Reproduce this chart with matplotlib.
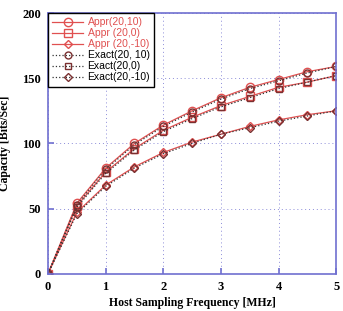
import matplotlib.pyplot as plt
import numpy as np

# Host sampling frequency [MHz]
freq = [0, 0.5, 1, 1.5, 2, 2.5, 3, 3.5, 4, 4.5, 5]

# approximated capacity
appr_10 = [0, 54, 81, 100, 114, 125, 135, 143, 149, 155, 159]
appr_0 = [0, 52, 78, 96, 110, 120, 129, 136, 143, 147, 152]
appr_m10 = [0, 47, 68, 82, 93, 101, 107, 113, 118, 122, 125]

# exact capacity
exact_10 = [0, 53, 80, 99, 113, 124, 134, 142, 148, 154, 159]
exact_0 = [0, 51, 77, 95, 109, 119, 128, 135, 142, 147, 152]
exact_m10 = [0, 46, 67, 81, 92, 100, 107, 112, 117, 121, 125]

red = '#e05050'
blue = '#7070d0'

fig = plt.figure(figsize=(3.43, 3.11), dpi=100)
ax = fig.add_axes([0.14, 0.12, 0.84, 0.838])

ax.plot(freq, appr_10, color=red, lw=0.9, marker='o', ms=6, mfc='none', mec=red, label='Appr(20,10)')
ax.plot(freq, appr_0, color=red, lw=0.9, marker='s', ms=6, mfc='none', mec=red, label='Appr (20,0)')
ax.plot(freq, appr_m10, color=red, lw=0.9, marker='D', ms=4, mfc='none', mec=red, label='Appr (20,-10)')
ax.plot(freq, exact_10, color='#333333', lw=0.9, ls=':', marker='o', ms=5, mfc='none', mec='#7a3030', label='Exact(20, 10)')
ax.plot(freq, exact_0, color='#333333', lw=0.9, ls=':', marker='s', ms=5, mfc='none', mec='#7a3030', label='Exact(20,0)')
ax.plot(freq, exact_m10, color='#333333', lw=0.9, ls=':', marker='D', ms=4, mfc='none', mec='#7a3030', label='Exact(20,-10)')

ax.set_xlim(0, 5)
ax.set_ylim(0, 200)
ax.set_xticks(range(6))
ax.set_yticks([0, 50, 100, 150, 200])
ax.grid(True, color=blue, ls=(0, (1, 3)), lw=0.7, alpha=0.8)
for s in ax.spines.values():
    s.set_color(blue)
    s.set_linewidth(1.2)
ax.tick_params(direction='in', color=blue, length=4, width=1.2, pad=5)
for t in ax.get_xticklabels() + ax.get_yticklabels():
    t.set_fontfamily('Liberation Serif')
    t.set_fontweight('bold')
    t.set_fontsize(9)

ax.set_xlabel('Host Sampling Frequency [MHz]', fontfamily='Liberation Serif', fontweight='bold', fontsize=8.5, labelpad=3)
ax.set_ylabel('Capacity [Bits/Sec]', fontfamily='Liberation Serif', fontweight='bold', fontsize=8.5, labelpad=8)

leg = ax.legend(loc='upper left', prop={'family': 'Liberation Sans', 'size': 7.5}, frameon=True, fancybox=False,
                edgecolor='black', framealpha=1, borderaxespad=0.0, handlelength=3, labelspacing=0.1,
                borderpad=0.4, handletextpad=0.4)
leg.get_frame().set_linewidth(1.0)
for i, txt in enumerate(leg.get_texts()):
    txt.set_color(red if i < 3 else 'black')

plt.savefig('out.png', dpi=100)
